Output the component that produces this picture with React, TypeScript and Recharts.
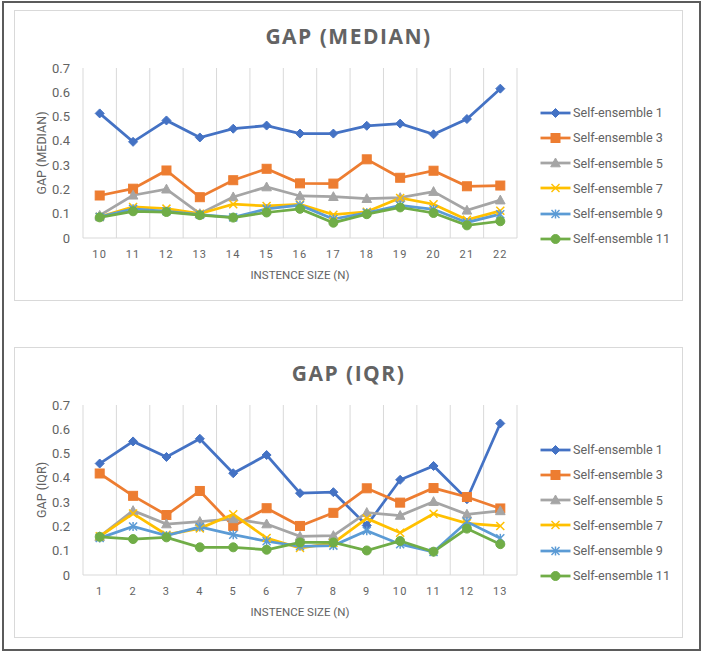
import { LineChart, Line, XAxis, YAxis, CartesianGrid } from 'recharts';

// instance sizes on the x axis
const medianSizes = [10, 11, 12, 13, 14, 15, 16, 17, 18, 19, 20, 21, 22];
const iqrSizes = [1, 2, 3, 4, 5, 6, 7, 8, 9, 10, 11, 12, 13];

const medianSe1 = [0.513, 0.396, 0.484, 0.414, 0.45, 0.463, 0.43, 0.43, 0.462, 0.471, 0.427, 0.49, 0.615];
const medianSe3 = [0.175, 0.203, 0.278, 0.168, 0.238, 0.285, 0.225, 0.224, 0.324, 0.248, 0.277, 0.213, 0.216];
const medianSe5 = [0.093, 0.176, 0.201, 0.1, 0.169, 0.21, 0.173, 0.17, 0.162, 0.166, 0.191, 0.114, 0.156];
const medianSe7 = [0.087, 0.128, 0.121, 0.1, 0.139, 0.132, 0.138, 0.096, 0.108, 0.165, 0.139, 0.075, 0.112];
const medianSe9 = [0.087, 0.12, 0.11, 0.096, 0.085, 0.12, 0.135, 0.078, 0.104, 0.134, 0.118, 0.064, 0.098];
const medianSe11 = [0.085, 0.11, 0.107, 0.094, 0.084, 0.105, 0.12, 0.063, 0.098, 0.126, 0.103, 0.052, 0.069];

const iqrSe1 = [0.459, 0.55, 0.486, 0.561, 0.419, 0.494, 0.337, 0.341, 0.204, 0.392, 0.449, 0.312, 0.624];
const iqrSe3 = [0.418, 0.326, 0.247, 0.346, 0.202, 0.275, 0.202, 0.256, 0.357, 0.298, 0.358, 0.321, 0.274];
const iqrSe5 = [0.158, 0.265, 0.21, 0.22, 0.231, 0.21, 0.159, 0.162, 0.257, 0.245, 0.302, 0.25, 0.264];
const iqrSe7 = [0.159, 0.253, 0.166, 0.192, 0.25, 0.152, 0.111, 0.132, 0.233, 0.174, 0.252, 0.213, 0.202];
const iqrSe9 = [0.152, 0.2, 0.162, 0.198, 0.166, 0.139, 0.118, 0.121, 0.182, 0.127, 0.095, 0.219, 0.151];
const iqrSe11 = [0.157, 0.148, 0.155, 0.114, 0.114, 0.104, 0.134, 0.134, 0.101, 0.14, 0.096, 0.191, 0.127];

const seriesNames = ['Self-ensemble 1', 'Self-ensemble 3', 'Self-ensemble 5', 'Self-ensemble 7', 'Self-ensemble 9', 'Self-ensemble 11'];
const seriesColors = ['#4472C4', '#ED7D31', '#A5A5A5', '#FFC000', '#5B9BD5', '#70AD47'];
const seriesMarkers = ['diamond', 'square', 'triangle', 'cross', 'star', 'circle'];

const yTicks = [0, 0.1, 0.2, 0.3, 0.4, 0.5, 0.6, 0.7];

const TEXT = '#636363';
const GRID = '#D9D9D9';
const FONT = 'Roboto, "Open Sans", sans-serif';

function Marker({ kind, cx, cy, color }: { kind: string; cx: number; cy: number; color: string }) {
  if (cx == null || cy == null) return null;
  switch (kind) {
    case 'diamond':
      return <polygon points={`${cx},${cy - 4.5} ${cx + 4.5},${cy} ${cx},${cy + 4.5} ${cx - 4.5},${cy}`} fill={color} stroke={color} strokeWidth={1} />;
    case 'square':
      return <rect x={cx - 4.5} y={cy - 4.5} width={9} height={9} fill={color} stroke={color} strokeWidth={1} />;
    case 'triangle':
      return <polygon points={`${cx},${cy - 5} ${cx + 4.8},${cy + 3.8} ${cx - 4.8},${cy + 3.8}`} fill={color} stroke={color} strokeWidth={1} />;
    case 'cross':
      return (
        <g stroke={color} strokeWidth={1.5}>
          <line x1={cx - 4} y1={cy - 4} x2={cx + 4} y2={cy + 4} />
          <line x1={cx - 4} y1={cy + 4} x2={cx + 4} y2={cy - 4} />
        </g>
      );
    case 'star':
      return (
        <g stroke={color} strokeWidth={1.5}>
          <line x1={cx - 4} y1={cy - 4} x2={cx + 4} y2={cy + 4} />
          <line x1={cx - 4} y1={cy + 4} x2={cx + 4} y2={cy - 4} />
          <line x1={cx} y1={cy - 4.5} x2={cx} y2={cy + 4.5} />
        </g>
      );
    default:
      return <circle cx={cx} cy={cy} r={4.5} fill={color} stroke={color} strokeWidth={1} />;
  }
}

interface PanelProps {
  top: number;
  title: string;
  yTitle: string;
  sizes: number[];
  values: number[][];
}

function GapPanel({ top, title, yTitle, sizes, values }: PanelProps) {
  const data = sizes.map((n, i) => {
    const row: Record<string, number> = { n };
    values.forEach((s, k) => {
      row[`s${k}`] = s[i];
    });
    return row;
  });

  return (
    <div style={{ position: 'absolute', left: 14, top, width: 669, height: 291 }}>
      <div style={{ position: 'absolute', inset: 0, border: `1px solid ${GRID}`, boxSizing: 'border-box' }} />
      <div
        style={{
          position: 'absolute', left: 0, width: 669, top: 12, textAlign: 'center',
          fontFamily: '"Open Sans", sans-serif', fontWeight: 700, fontSize: 21, letterSpacing: 1.5, color: TEXT, lineHeight: '28px',
        }}
      >
        {title}
      </div>
      <LineChart width={669} height={291} data={data} margin={{ top: 58, right: 166, bottom: 0, left: 0 }} style={{ position: 'absolute', left: 0, top: 0 }}>
        <CartesianGrid
          horizontal={false}
          stroke={GRID}
          strokeWidth={1}
          verticalCoordinatesGenerator={({ offset }: any) =>
            Array.from({ length: sizes.length + 1 }, (_, i) => offset.left + (i * offset.width) / sizes.length)
          }
        />
        <XAxis
          dataKey="n"
          scale="band"
          height={63}
          tickLine={false}
          axisLine={{ stroke: GRID }}
          tick={{ fill: TEXT, fontSize: 11, fontFamily: FONT, letterSpacing: 1.2 }}
          tickMargin={6}
        />
        <YAxis
          width={69}
          domain={[0, 0.7]}
          ticks={yTicks}
          tickFormatter={(v: number) => (v === 0 ? '0' : v.toFixed(1))}
          axisLine={false}
          tickLine={false}
          tick={{ fill: TEXT, fontSize: 13, fontFamily: FONT }}
          tickMargin={7}
        />
        {values.map((_, k) => (
          <Line
            key={k}
            dataKey={`s${k}`}
            stroke={seriesColors[k]}
            strokeWidth={2.75}
            isAnimationActive={false}
            dot={(p: any) => <Marker key={p.index} kind={seriesMarkers[k]} cx={p.cx} cy={p.cy} color={seriesColors[k]} />}
            activeDot={false}
          />
        ))}
      </LineChart>
      <div
        style={{
          position: 'absolute', left: 28 - 60, top: 143 - 8, width: 120, textAlign: 'center',
          transform: 'rotate(-90deg)', fontFamily: FONT, fontSize: 12.5, color: TEXT, lineHeight: '16px',
        }}
      >
        {yTitle}
      </div>
      <div
        style={{
          position: 'absolute', left: 69, width: 434, top: 257, textAlign: 'center',
          fontFamily: FONT, fontSize: 11.5, color: TEXT, lineHeight: '16px',
        }}
      >
        INSTENCE SIZE (N)
      </div>
      {seriesNames.map((name, k) => (
        <div
          key={name}
          style={{ position: 'absolute', left: 526, top: 102.7 + k * 25.2 - 9, height: 18, display: 'flex', alignItems: 'center' }}
        >
          <svg width={31} height={14} style={{ display: 'block' }}>
            <line x1={0.5} y1={7} x2={30.5} y2={7} stroke={seriesColors[k]} strokeWidth={2.75} />
            <Marker kind={seriesMarkers[k]} cx={15.5} cy={7} color={seriesColors[k]} />
          </svg>
          <span style={{ fontFamily: FONT, fontSize: 12.6, color: TEXT, marginLeft: 2, whiteSpace: 'nowrap' }}>{name}</span>
        </div>
      ))}
    </div>
  );
}

export default function App() {
  return (
    <div style={{ position: 'absolute', left: 0, top: 0, width: 704, height: 653, background: '#fff', overflow: 'hidden' }}>
      <div style={{ position: 'absolute', left: 2, top: 1, width: 699, height: 650, border: '2px solid #5B5B5B', boxSizing: 'border-box' }} />
      <GapPanel
        top={10}
        title="GAP (MEDIAN)"
        yTitle="GAP (MEDIAN)"
        sizes={medianSizes}
        values={[medianSe1, medianSe3, medianSe5, medianSe7, medianSe9, medianSe11]}
      />
      <GapPanel
        top={347}
        title="GAP (IQR)"
        yTitle="GAP (IQR)"
        sizes={iqrSizes}
        values={[iqrSe1, iqrSe3, iqrSe5, iqrSe7, iqrSe9, iqrSe11]}
      />
    </div>
  );
}
